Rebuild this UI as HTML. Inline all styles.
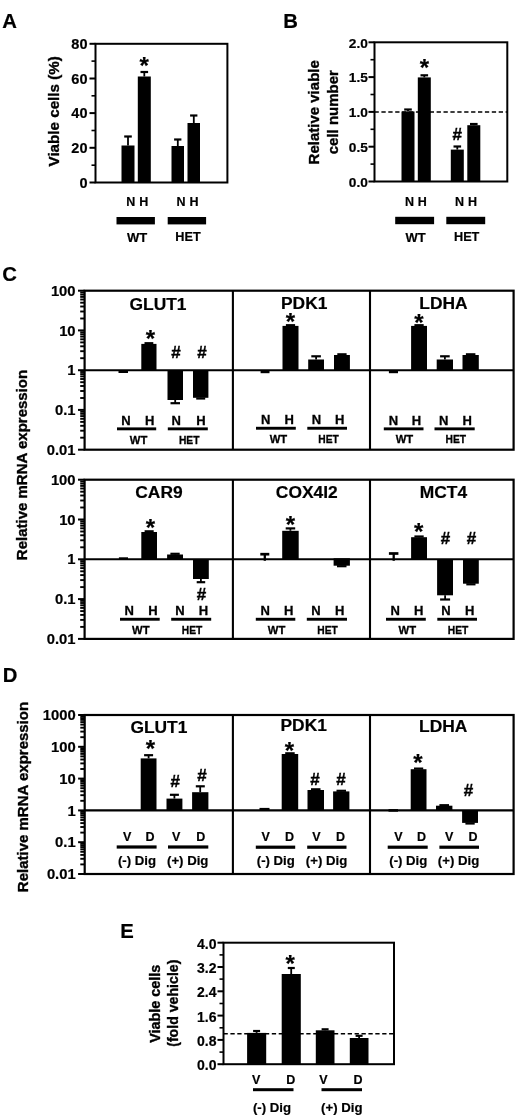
<!DOCTYPE html>
<html><head><meta charset="utf-8"><title>Figure</title>
<style>html,body{margin:0;padding:0;background:#fff}svg{display:block}text{fill:#000}</style>
</head><body>
<svg width="520" height="1118" viewBox="0 0 520 1118" font-family="Liberation Sans, Arial, sans-serif" font-weight="bold">
<rect width="520" height="1118" fill="#fff"/>
<text x="9.6" y="28.2" font-size="20.3" text-anchor="middle"  stroke="#000" stroke-width="0.2">A</text>
<rect x="95.5" y="43.8" width="131.9" height="138.7" fill="none" stroke="#000" stroke-width="2"/>
<line x1="89.5" y1="43.8" x2="95.5" y2="43.8" stroke="#000" stroke-width="2" />
<text x="87.5" y="49.0" font-size="14.5" text-anchor="end"  stroke="#000" stroke-width="0.2">80</text>
<line x1="91.5" y1="61.1" x2="95.5" y2="61.1" stroke="#000" stroke-width="1.6" />
<line x1="89.5" y1="78.5" x2="95.5" y2="78.5" stroke="#000" stroke-width="2" />
<text x="87.5" y="83.7" font-size="14.5" text-anchor="end"  stroke="#000" stroke-width="0.2">60</text>
<line x1="91.5" y1="95.8" x2="95.5" y2="95.8" stroke="#000" stroke-width="1.6" />
<line x1="89.5" y1="113.1" x2="95.5" y2="113.1" stroke="#000" stroke-width="2" />
<text x="87.5" y="118.3" font-size="14.5" text-anchor="end"  stroke="#000" stroke-width="0.2">40</text>
<line x1="91.5" y1="130.5" x2="95.5" y2="130.5" stroke="#000" stroke-width="1.6" />
<line x1="89.5" y1="147.8" x2="95.5" y2="147.8" stroke="#000" stroke-width="2" />
<text x="87.5" y="153.0" font-size="14.5" text-anchor="end"  stroke="#000" stroke-width="0.2">20</text>
<line x1="91.5" y1="165.2" x2="95.5" y2="165.2" stroke="#000" stroke-width="1.6" />
<line x1="89.5" y1="182.5" x2="95.5" y2="182.5" stroke="#000" stroke-width="2" />
<text x="87.5" y="187.7" font-size="14.5" text-anchor="end"  stroke="#000" stroke-width="0.2">0</text>
<text x="58.7" y="111.3" font-size="15.2" text-anchor="middle" stroke="#000" stroke-width="0.35" transform="rotate(-90 58.7 111.3)">Viable cells (%)</text>
<rect x="121.5" y="145.5" width="13.0" height="37.0" fill="#000"/>
<line x1="128.0" y1="145.5" x2="128.0" y2="136.5" stroke="#000" stroke-width="1.8" />
<line x1="124.2" y1="136.5" x2="131.8" y2="136.5" stroke="#000" stroke-width="2.2" />
<rect x="137.8" y="76.5" width="13.0" height="106.0" fill="#000"/>
<line x1="144.3" y1="76.5" x2="144.3" y2="72.0" stroke="#000" stroke-width="1.8" />
<line x1="140.5" y1="72.0" x2="148.1" y2="72.0" stroke="#000" stroke-width="2.2" />
<rect x="171.5" y="146.0" width="12.5" height="36.5" fill="#000"/>
<line x1="177.8" y1="146.0" x2="177.8" y2="139.5" stroke="#000" stroke-width="1.8" />
<line x1="174.1" y1="139.5" x2="181.4" y2="139.5" stroke="#000" stroke-width="2.2" />
<rect x="187.5" y="123.0" width="12.5" height="59.5" fill="#000"/>
<line x1="193.8" y1="123.0" x2="193.8" y2="115.5" stroke="#000" stroke-width="1.8" />
<line x1="190.1" y1="115.5" x2="197.4" y2="115.5" stroke="#000" stroke-width="2.2" />
<text x="144.2" y="74.2" font-size="24" text-anchor="middle"  stroke="#000" stroke-width="0.2">*</text>
<text x="130.8" y="206.2" font-size="12.5" text-anchor="middle"  stroke="#000" stroke-width="0.2">N</text>
<text x="143.7" y="206.2" font-size="12.5" text-anchor="middle"  stroke="#000" stroke-width="0.2">H</text>
<text x="181.0" y="206.2" font-size="12.5" text-anchor="middle"  stroke="#000" stroke-width="0.2">N</text>
<text x="194.0" y="206.2" font-size="12.5" text-anchor="middle"  stroke="#000" stroke-width="0.2">H</text>
<rect x="116.5" y="217.0" width="38.4" height="7.4" fill="#000"/>
<rect x="167.7" y="217.0" width="38.4" height="7.4" fill="#000"/>
<text x="137.0" y="242.1" font-size="13" text-anchor="middle"  stroke="#000" stroke-width="0.2">WT</text>
<text x="188.0" y="240.8" font-size="12.7" text-anchor="middle"  stroke="#000" stroke-width="0.2">HET</text>
<text x="290.7" y="27.8" font-size="20.3" text-anchor="middle"  stroke="#000" stroke-width="0.2">B</text>
<rect x="374.5" y="42.3" width="132.8" height="139.2" fill="none" stroke="#000" stroke-width="2"/>
<line x1="368.5" y1="42.3" x2="374.5" y2="42.3" stroke="#000" stroke-width="2" />
<text x="367.8" y="47.5" font-size="13.7" text-anchor="end"  stroke="#000" stroke-width="0.2">2.0</text>
<line x1="370.5" y1="59.7" x2="374.5" y2="59.7" stroke="#000" stroke-width="1.6" />
<line x1="368.5" y1="77.1" x2="374.5" y2="77.1" stroke="#000" stroke-width="2" />
<text x="367.8" y="82.3" font-size="13.7" text-anchor="end"  stroke="#000" stroke-width="0.2">1.5</text>
<line x1="370.5" y1="94.5" x2="374.5" y2="94.5" stroke="#000" stroke-width="1.6" />
<line x1="368.5" y1="111.9" x2="374.5" y2="111.9" stroke="#000" stroke-width="2" />
<text x="367.8" y="117.1" font-size="13.7" text-anchor="end"  stroke="#000" stroke-width="0.2">1.0</text>
<line x1="370.5" y1="129.3" x2="374.5" y2="129.3" stroke="#000" stroke-width="1.6" />
<line x1="368.5" y1="146.7" x2="374.5" y2="146.7" stroke="#000" stroke-width="2" />
<text x="367.8" y="151.9" font-size="13.7" text-anchor="end"  stroke="#000" stroke-width="0.2">0.5</text>
<line x1="370.5" y1="164.1" x2="374.5" y2="164.1" stroke="#000" stroke-width="1.6" />
<line x1="368.5" y1="181.5" x2="374.5" y2="181.5" stroke="#000" stroke-width="2" />
<text x="367.8" y="186.7" font-size="13.7" text-anchor="end"  stroke="#000" stroke-width="0.2">0.0</text>
<text x="319.2" y="112.3" font-size="15" text-anchor="middle" stroke="#000" stroke-width="0.35" transform="rotate(-90 319.2 112.3)">Relative viable</text>
<text x="338.4" y="112.2" font-size="15" text-anchor="middle" stroke="#000" stroke-width="0.35" transform="rotate(-90 338.4 112.2)">cell number</text>
<line x1="374.5" y1="112.0" x2="507.3" y2="112.0" stroke="#000" stroke-width="1.6" stroke-dasharray="4.3 2.6"/>
<rect x="401.5" y="111.5" width="13.0" height="70.0" fill="#000"/>
<line x1="408.0" y1="111.5" x2="408.0" y2="109.5" stroke="#000" stroke-width="1.8" />
<line x1="404.2" y1="109.5" x2="411.8" y2="109.5" stroke="#000" stroke-width="2.2" />
<rect x="417.8" y="77.4" width="13.0" height="104.1" fill="#000"/>
<line x1="424.3" y1="77.4" x2="424.3" y2="75.3" stroke="#000" stroke-width="1.8" />
<line x1="420.5" y1="75.3" x2="428.1" y2="75.3" stroke="#000" stroke-width="2.2" />
<rect x="450.8" y="149.6" width="13.0" height="31.9" fill="#000"/>
<line x1="457.3" y1="149.6" x2="457.3" y2="146.5" stroke="#000" stroke-width="1.8" />
<line x1="453.5" y1="146.5" x2="461.1" y2="146.5" stroke="#000" stroke-width="2.2" />
<rect x="467.3" y="125.2" width="13.0" height="56.3" fill="#000"/>
<line x1="473.8" y1="125.2" x2="473.8" y2="124.0" stroke="#000" stroke-width="1.8" />
<line x1="470.0" y1="124.0" x2="477.6" y2="124.0" stroke="#000" stroke-width="2.2" />
<text x="424.3" y="75.9" font-size="24" text-anchor="middle"  stroke="#000" stroke-width="0.2">*</text>
<text x="457.3" y="140.1" font-size="17" text-anchor="middle" stroke="#000" stroke-width="0.4">#</text>
<text x="409.4" y="206.0" font-size="12.5" text-anchor="middle"  stroke="#000" stroke-width="0.2">N</text>
<text x="422.3" y="206.0" font-size="12.5" text-anchor="middle"  stroke="#000" stroke-width="0.2">H</text>
<text x="459.6" y="206.0" font-size="12.5" text-anchor="middle"  stroke="#000" stroke-width="0.2">N</text>
<text x="472.6" y="206.0" font-size="12.5" text-anchor="middle"  stroke="#000" stroke-width="0.2">H</text>
<rect x="395.2" y="216.8" width="38.9" height="7.4" fill="#000"/>
<rect x="446.3" y="216.8" width="38.9" height="7.4" fill="#000"/>
<text x="415.5" y="242.2" font-size="13" text-anchor="middle"  stroke="#000" stroke-width="0.2">WT</text>
<text x="466.7" y="241.0" font-size="12.7" text-anchor="middle"  stroke="#000" stroke-width="0.2">HET</text>
<text x="9.7" y="281.3" font-size="20.3" text-anchor="middle"  stroke="#000" stroke-width="0.2">C</text>
<text x="27.1" y="465.0" font-size="15" text-anchor="middle" stroke="#000" stroke-width="0.35" transform="rotate(-90 27.1 465.0)">Relative mRNA expression</text>
<rect x="84.6" y="290.7" width="429.0" height="159.0" fill="none" stroke="#000" stroke-width="2.2"/>
<line x1="232.9" y1="290.7" x2="232.9" y2="449.7" stroke="#000" stroke-width="2.1" />
<line x1="370.0" y1="290.7" x2="370.0" y2="449.7" stroke="#000" stroke-width="2.1" />
<line x1="84.6" y1="370.2" x2="513.6" y2="370.2" stroke="#000" stroke-width="2.1" />
<line x1="78.0" y1="290.7" x2="84.6" y2="290.7" stroke="#000" stroke-width="2" />
<text x="75.6" y="295.8" font-size="14.8" text-anchor="end"  stroke="#000" stroke-width="0.2">100</text>
<line x1="80.2" y1="318.5" x2="84.6" y2="318.5" stroke="#000" stroke-width="1.9" />
<line x1="80.2" y1="311.5" x2="84.6" y2="311.5" stroke="#000" stroke-width="1.9" />
<line x1="80.2" y1="306.5" x2="84.6" y2="306.5" stroke="#000" stroke-width="1.9" />
<line x1="80.2" y1="302.7" x2="84.6" y2="302.7" stroke="#000" stroke-width="1.9" />
<line x1="80.2" y1="299.5" x2="84.6" y2="299.5" stroke="#000" stroke-width="1.9" />
<line x1="80.2" y1="296.9" x2="84.6" y2="296.9" stroke="#000" stroke-width="1.9" />
<line x1="80.2" y1="294.6" x2="84.6" y2="294.6" stroke="#000" stroke-width="1.9" />
<line x1="80.2" y1="292.5" x2="84.6" y2="292.5" stroke="#000" stroke-width="1.9" />
<line x1="78.0" y1="330.4" x2="84.6" y2="330.4" stroke="#000" stroke-width="2" />
<text x="75.6" y="335.5" font-size="14.8" text-anchor="end"  stroke="#000" stroke-width="0.2">10</text>
<line x1="80.2" y1="358.2" x2="84.6" y2="358.2" stroke="#000" stroke-width="1.9" />
<line x1="80.2" y1="351.2" x2="84.6" y2="351.2" stroke="#000" stroke-width="1.9" />
<line x1="80.2" y1="346.3" x2="84.6" y2="346.3" stroke="#000" stroke-width="1.9" />
<line x1="80.2" y1="342.4" x2="84.6" y2="342.4" stroke="#000" stroke-width="1.9" />
<line x1="80.2" y1="339.3" x2="84.6" y2="339.3" stroke="#000" stroke-width="1.9" />
<line x1="80.2" y1="336.6" x2="84.6" y2="336.6" stroke="#000" stroke-width="1.9" />
<line x1="80.2" y1="334.3" x2="84.6" y2="334.3" stroke="#000" stroke-width="1.9" />
<line x1="80.2" y1="332.3" x2="84.6" y2="332.3" stroke="#000" stroke-width="1.9" />
<line x1="78.0" y1="370.2" x2="84.6" y2="370.2" stroke="#000" stroke-width="2" />
<text x="75.6" y="375.3" font-size="14.8" text-anchor="end"  stroke="#000" stroke-width="0.2">1</text>
<line x1="80.2" y1="398.0" x2="84.6" y2="398.0" stroke="#000" stroke-width="1.9" />
<line x1="80.2" y1="391.0" x2="84.6" y2="391.0" stroke="#000" stroke-width="1.9" />
<line x1="80.2" y1="386.0" x2="84.6" y2="386.0" stroke="#000" stroke-width="1.9" />
<line x1="80.2" y1="382.2" x2="84.6" y2="382.2" stroke="#000" stroke-width="1.9" />
<line x1="80.2" y1="379.0" x2="84.6" y2="379.0" stroke="#000" stroke-width="1.9" />
<line x1="80.2" y1="376.4" x2="84.6" y2="376.4" stroke="#000" stroke-width="1.9" />
<line x1="80.2" y1="374.1" x2="84.6" y2="374.1" stroke="#000" stroke-width="1.9" />
<line x1="80.2" y1="372.0" x2="84.6" y2="372.0" stroke="#000" stroke-width="1.9" />
<line x1="78.0" y1="409.9" x2="84.6" y2="409.9" stroke="#000" stroke-width="2" />
<text x="75.6" y="415.0" font-size="14.8" text-anchor="end"  stroke="#000" stroke-width="0.2">0.1</text>
<line x1="80.2" y1="437.7" x2="84.6" y2="437.7" stroke="#000" stroke-width="1.9" />
<line x1="80.2" y1="430.7" x2="84.6" y2="430.7" stroke="#000" stroke-width="1.9" />
<line x1="80.2" y1="425.8" x2="84.6" y2="425.8" stroke="#000" stroke-width="1.9" />
<line x1="80.2" y1="421.9" x2="84.6" y2="421.9" stroke="#000" stroke-width="1.9" />
<line x1="80.2" y1="418.8" x2="84.6" y2="418.8" stroke="#000" stroke-width="1.9" />
<line x1="80.2" y1="416.1" x2="84.6" y2="416.1" stroke="#000" stroke-width="1.9" />
<line x1="80.2" y1="413.8" x2="84.6" y2="413.8" stroke="#000" stroke-width="1.9" />
<line x1="80.2" y1="411.8" x2="84.6" y2="411.8" stroke="#000" stroke-width="1.9" />
<line x1="78.0" y1="449.7" x2="84.6" y2="449.7" stroke="#000" stroke-width="2" />
<text x="75.6" y="454.8" font-size="14.8" text-anchor="end"  stroke="#000" stroke-width="0.2">0.01</text>
<text x="158.0" y="309.8" font-size="17.4" text-anchor="middle"  stroke="#000" stroke-width="0.2">GLUT1</text>
<text x="304.2" y="308.7" font-size="17.4" text-anchor="middle"  stroke="#000" stroke-width="0.2">PDK1</text>
<text x="443.5" y="309.2" font-size="17.4" text-anchor="middle"  stroke="#000" stroke-width="0.2">LDHA</text>
<rect x="118.5" y="370.2" width="9.5" height="2.8" fill="#000"/>
<rect x="141.3" y="343.9" width="15.2" height="26.3" fill="#000"/>
<line x1="148.9" y1="343.9" x2="148.9" y2="343.2" stroke="#000" stroke-width="1.8" />
<line x1="144.5" y1="343.2" x2="153.3" y2="343.2" stroke="#000" stroke-width="2.2" />
<rect x="167.5" y="370.2" width="15.5" height="29.8" fill="#000"/>
<line x1="175.2" y1="400.0" x2="175.2" y2="403.2" stroke="#000" stroke-width="1.8" />
<line x1="170.5" y1="403.2" x2="180.0" y2="403.2" stroke="#000" stroke-width="2.2" />
<rect x="193.0" y="370.2" width="15.4" height="27.6" fill="#000"/>
<line x1="200.7" y1="397.8" x2="200.7" y2="398.5" stroke="#000" stroke-width="1.8" />
<line x1="196.2" y1="398.5" x2="205.2" y2="398.5" stroke="#000" stroke-width="2.2" />
<text x="150.4" y="347.0" font-size="24" text-anchor="middle"  stroke="#000" stroke-width="0.2">*</text>
<text x="176.0" y="358.1" font-size="17" text-anchor="middle" stroke="#000" stroke-width="0.4">#</text>
<text x="202.0" y="358.1" font-size="17" text-anchor="middle" stroke="#000" stroke-width="0.4">#</text>
<rect x="260.6" y="370.2" width="8.9" height="3.0" fill="#000"/>
<rect x="282.5" y="325.9" width="16.0" height="44.3" fill="#000"/>
<line x1="290.5" y1="325.9" x2="290.5" y2="325.2" stroke="#000" stroke-width="1.8" />
<line x1="285.9" y1="325.2" x2="295.1" y2="325.2" stroke="#000" stroke-width="2.2" />
<rect x="308.2" y="359.5" width="15.8" height="10.7" fill="#000"/>
<line x1="316.1" y1="359.5" x2="316.1" y2="356.3" stroke="#000" stroke-width="1.8" />
<line x1="311.3" y1="356.3" x2="320.9" y2="356.3" stroke="#000" stroke-width="2.2" />
<rect x="334.0" y="355.0" width="15.9" height="15.2" fill="#000"/>
<line x1="341.9" y1="355.0" x2="341.9" y2="354.3" stroke="#000" stroke-width="1.8" />
<line x1="337.3" y1="354.3" x2="346.6" y2="354.3" stroke="#000" stroke-width="2.2" />
<text x="290.4" y="330.2" font-size="24" text-anchor="middle"  stroke="#000" stroke-width="0.2">*</text>
<rect x="388.9" y="370.2" width="9.1" height="3.0" fill="#000"/>
<rect x="411.1" y="325.9" width="15.9" height="44.3" fill="#000"/>
<line x1="419.1" y1="325.9" x2="419.1" y2="325.2" stroke="#000" stroke-width="1.8" />
<line x1="414.4" y1="325.2" x2="423.7" y2="325.2" stroke="#000" stroke-width="2.2" />
<rect x="436.7" y="359.5" width="16.3" height="10.7" fill="#000"/>
<line x1="444.9" y1="359.5" x2="444.9" y2="356.3" stroke="#000" stroke-width="1.8" />
<line x1="440.1" y1="356.3" x2="449.7" y2="356.3" stroke="#000" stroke-width="2.2" />
<rect x="462.5" y="355.0" width="16.3" height="15.2" fill="#000"/>
<line x1="470.6" y1="355.0" x2="470.6" y2="354.3" stroke="#000" stroke-width="1.8" />
<line x1="465.9" y1="354.3" x2="475.4" y2="354.3" stroke="#000" stroke-width="2.2" />
<text x="419.0" y="330.7" font-size="24" text-anchor="middle"  stroke="#000" stroke-width="0.2">*</text>
<text x="126.0" y="425.4" font-size="13" text-anchor="middle" stroke="#000" stroke-width="0.3">N</text>
<text x="149.6" y="425.4" font-size="13" text-anchor="middle" stroke="#000" stroke-width="0.3">H</text>
<text x="176.2" y="425.4" font-size="13" text-anchor="middle" stroke="#000" stroke-width="0.3">N</text>
<text x="201.0" y="425.4" font-size="13" text-anchor="middle" stroke="#000" stroke-width="0.3">H</text>
<rect x="117.0" y="427.4" width="39.2" height="2.9" fill="#000"/>
<rect x="167.8" y="427.4" width="40.0" height="2.9" fill="#000"/>
<text x="138.6" y="443.8" font-size="11.5" text-anchor="middle" textLength="17.5" lengthAdjust="spacingAndGlyphs" stroke="#000" stroke-width="0.3">WT</text>
<text x="189.2" y="443.8" font-size="11.5" text-anchor="middle" textLength="20.5" lengthAdjust="spacingAndGlyphs" stroke="#000" stroke-width="0.3">HET</text>
<text x="265.8" y="424.2" font-size="13" text-anchor="middle" stroke="#000" stroke-width="0.3">N</text>
<text x="289.3" y="424.2" font-size="13" text-anchor="middle" stroke="#000" stroke-width="0.3">H</text>
<text x="316.5" y="424.2" font-size="13" text-anchor="middle" stroke="#000" stroke-width="0.3">N</text>
<text x="339.6" y="424.2" font-size="13" text-anchor="middle" stroke="#000" stroke-width="0.3">H</text>
<rect x="256.0" y="426.8" width="39.8" height="2.9" fill="#000"/>
<rect x="307.3" y="426.8" width="39.7" height="2.9" fill="#000"/>
<text x="278.5" y="442.8" font-size="11.5" text-anchor="middle" textLength="17.5" lengthAdjust="spacingAndGlyphs" stroke="#000" stroke-width="0.3">WT</text>
<text x="328.5" y="442.8" font-size="11.5" text-anchor="middle" textLength="20.5" lengthAdjust="spacingAndGlyphs" stroke="#000" stroke-width="0.3">HET</text>
<text x="393.5" y="424.7" font-size="13" text-anchor="middle" stroke="#000" stroke-width="0.3">N</text>
<text x="416.5" y="424.7" font-size="13" text-anchor="middle" stroke="#000" stroke-width="0.3">H</text>
<text x="443.8" y="424.7" font-size="13" text-anchor="middle" stroke="#000" stroke-width="0.3">N</text>
<text x="467.3" y="424.7" font-size="13" text-anchor="middle" stroke="#000" stroke-width="0.3">H</text>
<rect x="383.8" y="427.4" width="39.7" height="2.9" fill="#000"/>
<rect x="434.5" y="427.4" width="40.2" height="2.9" fill="#000"/>
<text x="404.5" y="443.3" font-size="11.5" text-anchor="middle" textLength="17.5" lengthAdjust="spacingAndGlyphs" stroke="#000" stroke-width="0.3">WT</text>
<text x="455.8" y="443.3" font-size="11.5" text-anchor="middle" textLength="20.5" lengthAdjust="spacingAndGlyphs" stroke="#000" stroke-width="0.3">HET</text>
<rect x="84.6" y="479.7" width="429.0" height="159.2" fill="none" stroke="#000" stroke-width="2.2"/>
<line x1="232.9" y1="479.7" x2="232.9" y2="638.9" stroke="#000" stroke-width="2.1" />
<line x1="370.0" y1="479.7" x2="370.0" y2="638.9" stroke="#000" stroke-width="2.1" />
<line x1="84.6" y1="559.3" x2="513.6" y2="559.3" stroke="#000" stroke-width="2.1" />
<line x1="78.0" y1="479.7" x2="84.6" y2="479.7" stroke="#000" stroke-width="2" />
<text x="75.6" y="484.8" font-size="14.8" text-anchor="end"  stroke="#000" stroke-width="0.2">100</text>
<line x1="80.2" y1="507.5" x2="84.6" y2="507.5" stroke="#000" stroke-width="1.9" />
<line x1="80.2" y1="500.5" x2="84.6" y2="500.5" stroke="#000" stroke-width="1.9" />
<line x1="80.2" y1="495.5" x2="84.6" y2="495.5" stroke="#000" stroke-width="1.9" />
<line x1="80.2" y1="491.7" x2="84.6" y2="491.7" stroke="#000" stroke-width="1.9" />
<line x1="80.2" y1="488.5" x2="84.6" y2="488.5" stroke="#000" stroke-width="1.9" />
<line x1="80.2" y1="485.9" x2="84.6" y2="485.9" stroke="#000" stroke-width="1.9" />
<line x1="80.2" y1="483.6" x2="84.6" y2="483.6" stroke="#000" stroke-width="1.9" />
<line x1="80.2" y1="481.5" x2="84.6" y2="481.5" stroke="#000" stroke-width="1.9" />
<line x1="78.0" y1="519.5" x2="84.6" y2="519.5" stroke="#000" stroke-width="2" />
<text x="75.6" y="524.6" font-size="14.8" text-anchor="end"  stroke="#000" stroke-width="0.2">10</text>
<line x1="80.2" y1="547.3" x2="84.6" y2="547.3" stroke="#000" stroke-width="1.9" />
<line x1="80.2" y1="540.3" x2="84.6" y2="540.3" stroke="#000" stroke-width="1.9" />
<line x1="80.2" y1="535.3" x2="84.6" y2="535.3" stroke="#000" stroke-width="1.9" />
<line x1="80.2" y1="531.5" x2="84.6" y2="531.5" stroke="#000" stroke-width="1.9" />
<line x1="80.2" y1="528.3" x2="84.6" y2="528.3" stroke="#000" stroke-width="1.9" />
<line x1="80.2" y1="525.7" x2="84.6" y2="525.7" stroke="#000" stroke-width="1.9" />
<line x1="80.2" y1="523.4" x2="84.6" y2="523.4" stroke="#000" stroke-width="1.9" />
<line x1="80.2" y1="521.3" x2="84.6" y2="521.3" stroke="#000" stroke-width="1.9" />
<line x1="78.0" y1="559.3" x2="84.6" y2="559.3" stroke="#000" stroke-width="2" />
<text x="75.6" y="564.4" font-size="14.8" text-anchor="end"  stroke="#000" stroke-width="0.2">1</text>
<line x1="80.2" y1="587.1" x2="84.6" y2="587.1" stroke="#000" stroke-width="1.9" />
<line x1="80.2" y1="580.1" x2="84.6" y2="580.1" stroke="#000" stroke-width="1.9" />
<line x1="80.2" y1="575.1" x2="84.6" y2="575.1" stroke="#000" stroke-width="1.9" />
<line x1="80.2" y1="571.3" x2="84.6" y2="571.3" stroke="#000" stroke-width="1.9" />
<line x1="80.2" y1="568.1" x2="84.6" y2="568.1" stroke="#000" stroke-width="1.9" />
<line x1="80.2" y1="565.5" x2="84.6" y2="565.5" stroke="#000" stroke-width="1.9" />
<line x1="80.2" y1="563.2" x2="84.6" y2="563.2" stroke="#000" stroke-width="1.9" />
<line x1="80.2" y1="561.1" x2="84.6" y2="561.1" stroke="#000" stroke-width="1.9" />
<line x1="78.0" y1="599.1" x2="84.6" y2="599.1" stroke="#000" stroke-width="2" />
<text x="75.6" y="604.2" font-size="14.8" text-anchor="end"  stroke="#000" stroke-width="0.2">0.1</text>
<line x1="80.2" y1="626.9" x2="84.6" y2="626.9" stroke="#000" stroke-width="1.9" />
<line x1="80.2" y1="619.9" x2="84.6" y2="619.9" stroke="#000" stroke-width="1.9" />
<line x1="80.2" y1="614.9" x2="84.6" y2="614.9" stroke="#000" stroke-width="1.9" />
<line x1="80.2" y1="611.1" x2="84.6" y2="611.1" stroke="#000" stroke-width="1.9" />
<line x1="80.2" y1="607.9" x2="84.6" y2="607.9" stroke="#000" stroke-width="1.9" />
<line x1="80.2" y1="605.3" x2="84.6" y2="605.3" stroke="#000" stroke-width="1.9" />
<line x1="80.2" y1="603.0" x2="84.6" y2="603.0" stroke="#000" stroke-width="1.9" />
<line x1="80.2" y1="600.9" x2="84.6" y2="600.9" stroke="#000" stroke-width="1.9" />
<line x1="78.0" y1="638.9" x2="84.6" y2="638.9" stroke="#000" stroke-width="2" />
<text x="75.6" y="644.0" font-size="14.8" text-anchor="end"  stroke="#000" stroke-width="0.2">0.01</text>
<text x="159.0" y="497.5" font-size="17.4" text-anchor="middle"  stroke="#000" stroke-width="0.2">CAR9</text>
<text x="306.8" y="497.5" font-size="17.4" text-anchor="middle"  stroke="#000" stroke-width="0.2">COX4I2</text>
<text x="443.5" y="497.7" font-size="17.4" text-anchor="middle"  stroke="#000" stroke-width="0.2">MCT4</text>
<rect x="118.9" y="557.3" width="9.1" height="2.0" fill="#000"/>
<rect x="141.3" y="532.0" width="15.7" height="27.3" fill="#000"/>
<line x1="149.2" y1="532.0" x2="149.2" y2="531.3" stroke="#000" stroke-width="1.8" />
<line x1="144.6" y1="531.3" x2="153.7" y2="531.3" stroke="#000" stroke-width="2.2" />
<rect x="167.1" y="554.5" width="15.9" height="4.8" fill="#000"/>
<line x1="175.1" y1="554.5" x2="175.1" y2="553.8" stroke="#000" stroke-width="1.8" />
<line x1="170.4" y1="553.8" x2="179.7" y2="553.8" stroke="#000" stroke-width="2.2" />
<rect x="193.0" y="559.3" width="15.8" height="19.7" fill="#000"/>
<line x1="200.9" y1="579.0" x2="200.9" y2="582.2" stroke="#000" stroke-width="1.8" />
<line x1="196.7" y1="582.2" x2="205.2" y2="582.2" stroke="#000" stroke-width="2.2" />
<text x="150.4" y="536.2" font-size="24" text-anchor="middle"  stroke="#000" stroke-width="0.2">*</text>
<text x="201.6" y="600.1" font-size="17" text-anchor="middle" stroke="#000" stroke-width="0.4">#</text>
<line x1="264.8" y1="560.8" x2="264.8" y2="554.2" stroke="#000" stroke-width="2.3" />
<line x1="260.3" y1="554.2" x2="269.3" y2="554.2" stroke="#000" stroke-width="2.6999999999999997" />
<rect x="282.2" y="530.8" width="16.5" height="28.5" fill="#000"/>
<line x1="290.4" y1="530.8" x2="290.4" y2="528.4" stroke="#000" stroke-width="1.8" />
<line x1="285.7" y1="528.4" x2="295.2" y2="528.4" stroke="#000" stroke-width="2.2" />
<rect x="333.6" y="558.3" width="16.3" height="7.4" fill="#000"/>
<line x1="341.8" y1="565.7" x2="341.8" y2="566.2" stroke="#000" stroke-width="1.8" />
<line x1="337.0" y1="566.2" x2="346.5" y2="566.2" stroke="#000" stroke-width="2.2" />
<text x="290.4" y="532.7" font-size="24" text-anchor="middle"  stroke="#000" stroke-width="0.2">*</text>
<line x1="393.7" y1="560.8" x2="393.7" y2="553.5" stroke="#000" stroke-width="2.3" />
<line x1="388.9" y1="553.5" x2="398.4" y2="553.5" stroke="#000" stroke-width="2.6999999999999997" />
<rect x="411.1" y="537.2" width="15.9" height="22.1" fill="#000"/>
<line x1="419.1" y1="537.2" x2="419.1" y2="536.5" stroke="#000" stroke-width="1.8" />
<line x1="414.4" y1="536.5" x2="423.7" y2="536.5" stroke="#000" stroke-width="2.2" />
<rect x="437.1" y="559.3" width="15.9" height="36.0" fill="#000"/>
<line x1="445.1" y1="595.3" x2="445.1" y2="599.5" stroke="#000" stroke-width="1.8" />
<line x1="440.1" y1="599.5" x2="450.1" y2="599.5" stroke="#000" stroke-width="2.2" />
<rect x="463.0" y="559.3" width="15.8" height="24.4" fill="#000"/>
<line x1="470.9" y1="583.7" x2="470.9" y2="584.3" stroke="#000" stroke-width="1.8" />
<line x1="466.3" y1="584.3" x2="475.5" y2="584.3" stroke="#000" stroke-width="2.2" />
<text x="418.6" y="539.5" font-size="24" text-anchor="middle"  stroke="#000" stroke-width="0.2">*</text>
<text x="445.6" y="544.1" font-size="17" text-anchor="middle" stroke="#000" stroke-width="0.4">#</text>
<text x="471.6" y="544.1" font-size="17" text-anchor="middle" stroke="#000" stroke-width="0.4">#</text>
<text x="129.2" y="615.4" font-size="13" text-anchor="middle" stroke="#000" stroke-width="0.3">N</text>
<text x="153.0" y="615.4" font-size="13" text-anchor="middle" stroke="#000" stroke-width="0.3">H</text>
<text x="180.0" y="615.4" font-size="13" text-anchor="middle" stroke="#000" stroke-width="0.3">N</text>
<text x="203.5" y="615.4" font-size="13" text-anchor="middle" stroke="#000" stroke-width="0.3">H</text>
<rect x="120.0" y="617.8" width="39.7" height="2.9" fill="#000"/>
<rect x="171.2" y="617.8" width="40.0" height="2.9" fill="#000"/>
<text x="140.8" y="633.9" font-size="11.5" text-anchor="middle" textLength="17.5" lengthAdjust="spacingAndGlyphs" stroke="#000" stroke-width="0.3">WT</text>
<text x="192.0" y="633.9" font-size="11.5" text-anchor="middle" textLength="20.5" lengthAdjust="spacingAndGlyphs" stroke="#000" stroke-width="0.3">HET</text>
<text x="265.3" y="615.4" font-size="13" text-anchor="middle" stroke="#000" stroke-width="0.3">N</text>
<text x="288.8" y="615.4" font-size="13" text-anchor="middle" stroke="#000" stroke-width="0.3">H</text>
<text x="316.0" y="615.4" font-size="13" text-anchor="middle" stroke="#000" stroke-width="0.3">N</text>
<text x="339.6" y="615.4" font-size="13" text-anchor="middle" stroke="#000" stroke-width="0.3">H</text>
<rect x="255.8" y="617.8" width="39.5" height="2.9" fill="#000"/>
<rect x="306.8" y="617.8" width="40.2" height="2.9" fill="#000"/>
<text x="276.6" y="634.1" font-size="11.5" text-anchor="middle" textLength="17.5" lengthAdjust="spacingAndGlyphs" stroke="#000" stroke-width="0.3">WT</text>
<text x="327.6" y="634.1" font-size="11.5" text-anchor="middle" textLength="20.5" lengthAdjust="spacingAndGlyphs" stroke="#000" stroke-width="0.3">HET</text>
<text x="395.3" y="615.4" font-size="13" text-anchor="middle" stroke="#000" stroke-width="0.3">N</text>
<text x="418.8" y="615.4" font-size="13" text-anchor="middle" stroke="#000" stroke-width="0.3">H</text>
<text x="446.0" y="615.4" font-size="13" text-anchor="middle" stroke="#000" stroke-width="0.3">N</text>
<text x="469.6" y="615.4" font-size="13" text-anchor="middle" stroke="#000" stroke-width="0.3">H</text>
<rect x="386.0" y="617.8" width="39.8" height="2.9" fill="#000"/>
<rect x="437.3" y="617.8" width="39.7" height="2.9" fill="#000"/>
<text x="407.3" y="634.1" font-size="11.5" text-anchor="middle" textLength="17.5" lengthAdjust="spacingAndGlyphs" stroke="#000" stroke-width="0.3">WT</text>
<text x="458.0" y="634.1" font-size="11.5" text-anchor="middle" textLength="20.5" lengthAdjust="spacingAndGlyphs" stroke="#000" stroke-width="0.3">HET</text>
<text x="10.0" y="681.9" font-size="20.3" text-anchor="middle"  stroke="#000" stroke-width="0.2">D</text>
<text x="27.9" y="797.0" font-size="15" text-anchor="middle" stroke="#000" stroke-width="0.35" transform="rotate(-90 27.9 797.0)">Relative mRNA expression</text>
<rect x="84.7" y="715.0" width="428.9" height="159.0" fill="none" stroke="#000" stroke-width="2.2"/>
<line x1="232.9" y1="715.0" x2="232.9" y2="874.0" stroke="#000" stroke-width="2.1" />
<line x1="370.0" y1="715.0" x2="370.0" y2="874.0" stroke="#000" stroke-width="2.1" />
<line x1="84.7" y1="810.4" x2="513.6" y2="810.4" stroke="#000" stroke-width="2.1" />
<line x1="78.1" y1="715.0" x2="84.7" y2="715.0" stroke="#000" stroke-width="2" />
<text x="75.7" y="720.1" font-size="14.8" text-anchor="end"  stroke="#000" stroke-width="0.2">1000</text>
<line x1="80.3" y1="737.2" x2="84.7" y2="737.2" stroke="#000" stroke-width="1.9" />
<line x1="80.3" y1="731.6" x2="84.7" y2="731.6" stroke="#000" stroke-width="1.9" />
<line x1="80.3" y1="727.7" x2="84.7" y2="727.7" stroke="#000" stroke-width="1.9" />
<line x1="80.3" y1="724.6" x2="84.7" y2="724.6" stroke="#000" stroke-width="1.9" />
<line x1="80.3" y1="722.1" x2="84.7" y2="722.1" stroke="#000" stroke-width="1.9" />
<line x1="80.3" y1="719.9" x2="84.7" y2="719.9" stroke="#000" stroke-width="1.9" />
<line x1="80.3" y1="718.1" x2="84.7" y2="718.1" stroke="#000" stroke-width="1.9" />
<line x1="80.3" y1="716.5" x2="84.7" y2="716.5" stroke="#000" stroke-width="1.9" />
<line x1="78.1" y1="746.8" x2="84.7" y2="746.8" stroke="#000" stroke-width="2" />
<text x="75.7" y="751.9" font-size="14.8" text-anchor="end"  stroke="#000" stroke-width="0.2">100</text>
<line x1="80.3" y1="769.0" x2="84.7" y2="769.0" stroke="#000" stroke-width="1.9" />
<line x1="80.3" y1="763.4" x2="84.7" y2="763.4" stroke="#000" stroke-width="1.9" />
<line x1="80.3" y1="759.5" x2="84.7" y2="759.5" stroke="#000" stroke-width="1.9" />
<line x1="80.3" y1="756.4" x2="84.7" y2="756.4" stroke="#000" stroke-width="1.9" />
<line x1="80.3" y1="753.9" x2="84.7" y2="753.9" stroke="#000" stroke-width="1.9" />
<line x1="80.3" y1="751.7" x2="84.7" y2="751.7" stroke="#000" stroke-width="1.9" />
<line x1="80.3" y1="749.9" x2="84.7" y2="749.9" stroke="#000" stroke-width="1.9" />
<line x1="80.3" y1="748.3" x2="84.7" y2="748.3" stroke="#000" stroke-width="1.9" />
<line x1="78.1" y1="778.6" x2="84.7" y2="778.6" stroke="#000" stroke-width="2" />
<text x="75.7" y="783.7" font-size="14.8" text-anchor="end"  stroke="#000" stroke-width="0.2">10</text>
<line x1="80.3" y1="800.8" x2="84.7" y2="800.8" stroke="#000" stroke-width="1.9" />
<line x1="80.3" y1="795.2" x2="84.7" y2="795.2" stroke="#000" stroke-width="1.9" />
<line x1="80.3" y1="791.3" x2="84.7" y2="791.3" stroke="#000" stroke-width="1.9" />
<line x1="80.3" y1="788.2" x2="84.7" y2="788.2" stroke="#000" stroke-width="1.9" />
<line x1="80.3" y1="785.7" x2="84.7" y2="785.7" stroke="#000" stroke-width="1.9" />
<line x1="80.3" y1="783.5" x2="84.7" y2="783.5" stroke="#000" stroke-width="1.9" />
<line x1="80.3" y1="781.7" x2="84.7" y2="781.7" stroke="#000" stroke-width="1.9" />
<line x1="80.3" y1="780.1" x2="84.7" y2="780.1" stroke="#000" stroke-width="1.9" />
<line x1="78.1" y1="810.4" x2="84.7" y2="810.4" stroke="#000" stroke-width="2" />
<text x="75.7" y="815.5" font-size="14.8" text-anchor="end"  stroke="#000" stroke-width="0.2">1</text>
<line x1="80.3" y1="832.6" x2="84.7" y2="832.6" stroke="#000" stroke-width="1.9" />
<line x1="80.3" y1="827.0" x2="84.7" y2="827.0" stroke="#000" stroke-width="1.9" />
<line x1="80.3" y1="823.1" x2="84.7" y2="823.1" stroke="#000" stroke-width="1.9" />
<line x1="80.3" y1="820.0" x2="84.7" y2="820.0" stroke="#000" stroke-width="1.9" />
<line x1="80.3" y1="817.5" x2="84.7" y2="817.5" stroke="#000" stroke-width="1.9" />
<line x1="80.3" y1="815.3" x2="84.7" y2="815.3" stroke="#000" stroke-width="1.9" />
<line x1="80.3" y1="813.5" x2="84.7" y2="813.5" stroke="#000" stroke-width="1.9" />
<line x1="80.3" y1="811.9" x2="84.7" y2="811.9" stroke="#000" stroke-width="1.9" />
<line x1="78.1" y1="842.2" x2="84.7" y2="842.2" stroke="#000" stroke-width="2" />
<text x="75.7" y="847.3" font-size="14.8" text-anchor="end"  stroke="#000" stroke-width="0.2">0.1</text>
<line x1="80.3" y1="864.4" x2="84.7" y2="864.4" stroke="#000" stroke-width="1.9" />
<line x1="80.3" y1="858.8" x2="84.7" y2="858.8" stroke="#000" stroke-width="1.9" />
<line x1="80.3" y1="854.9" x2="84.7" y2="854.9" stroke="#000" stroke-width="1.9" />
<line x1="80.3" y1="851.8" x2="84.7" y2="851.8" stroke="#000" stroke-width="1.9" />
<line x1="80.3" y1="849.3" x2="84.7" y2="849.3" stroke="#000" stroke-width="1.9" />
<line x1="80.3" y1="847.1" x2="84.7" y2="847.1" stroke="#000" stroke-width="1.9" />
<line x1="80.3" y1="845.3" x2="84.7" y2="845.3" stroke="#000" stroke-width="1.9" />
<line x1="80.3" y1="843.7" x2="84.7" y2="843.7" stroke="#000" stroke-width="1.9" />
<line x1="78.1" y1="874.0" x2="84.7" y2="874.0" stroke="#000" stroke-width="2" />
<text x="75.7" y="879.1" font-size="14.8" text-anchor="end"  stroke="#000" stroke-width="0.2">0.01</text>
<text x="158.9" y="732.5" font-size="17.4" text-anchor="middle"  stroke="#000" stroke-width="0.2">GLUT1</text>
<text x="303.7" y="731.1" font-size="17.4" text-anchor="middle"  stroke="#000" stroke-width="0.2">PDK1</text>
<text x="443.2" y="731.7" font-size="17.4" text-anchor="middle"  stroke="#000" stroke-width="0.2">LDHA</text>
<rect x="140.7" y="758.4" width="15.8" height="52.0" fill="#000"/>
<line x1="148.6" y1="758.4" x2="148.6" y2="755.2" stroke="#000" stroke-width="1.8" />
<line x1="144.1" y1="755.2" x2="153.1" y2="755.2" stroke="#000" stroke-width="2.2" />
<rect x="166.5" y="798.6" width="15.9" height="11.8" fill="#000"/>
<line x1="174.4" y1="798.6" x2="174.4" y2="794.8" stroke="#000" stroke-width="1.8" />
<line x1="169.9" y1="794.8" x2="178.9" y2="794.8" stroke="#000" stroke-width="2.2" />
<rect x="192.1" y="792.2" width="16.3" height="18.2" fill="#000"/>
<line x1="200.2" y1="792.2" x2="200.2" y2="786.3" stroke="#000" stroke-width="1.8" />
<line x1="195.8" y1="786.3" x2="204.8" y2="786.3" stroke="#000" stroke-width="2.2" />
<text x="150.4" y="757.4" font-size="24" text-anchor="middle"  stroke="#000" stroke-width="0.2">*</text>
<text x="175.2" y="786.5" font-size="17" text-anchor="middle" stroke="#000" stroke-width="0.4">#</text>
<text x="202.0" y="780.9" font-size="17" text-anchor="middle" stroke="#000" stroke-width="0.4">#</text>
<rect x="259.5" y="807.9" width="10.0" height="2.5" fill="#000"/>
<rect x="281.7" y="754.0" width="16.5" height="56.4" fill="#000"/>
<line x1="289.9" y1="754.0" x2="289.9" y2="753.3" stroke="#000" stroke-width="1.8" />
<line x1="285.2" y1="753.3" x2="294.7" y2="753.3" stroke="#000" stroke-width="2.2" />
<rect x="307.5" y="790.0" width="16.5" height="20.4" fill="#000"/>
<line x1="315.8" y1="790.0" x2="315.8" y2="789.3" stroke="#000" stroke-width="1.8" />
<line x1="311.0" y1="789.3" x2="320.5" y2="789.3" stroke="#000" stroke-width="2.2" />
<rect x="333.1" y="791.4" width="16.3" height="19.0" fill="#000"/>
<line x1="341.2" y1="791.4" x2="341.2" y2="790.8" stroke="#000" stroke-width="1.8" />
<line x1="336.5" y1="790.8" x2="346.0" y2="790.8" stroke="#000" stroke-width="2.2" />
<text x="289.3" y="758.9" font-size="24" text-anchor="middle"  stroke="#000" stroke-width="0.2">*</text>
<text x="315.0" y="785.4" font-size="17" text-anchor="middle" stroke="#000" stroke-width="0.4">#</text>
<text x="341.0" y="785.4" font-size="17" text-anchor="middle" stroke="#000" stroke-width="0.4">#</text>
<rect x="388.5" y="809.1" width="9.5" height="2.6" fill="#000"/>
<rect x="410.7" y="769.2" width="15.8" height="41.2" fill="#000"/>
<line x1="418.6" y1="769.2" x2="418.6" y2="768.6" stroke="#000" stroke-width="1.8" />
<line x1="414.0" y1="768.6" x2="423.2" y2="768.6" stroke="#000" stroke-width="2.2" />
<rect x="436.0" y="805.7" width="16.4" height="4.7" fill="#000"/>
<line x1="444.2" y1="805.7" x2="444.2" y2="805.2" stroke="#000" stroke-width="1.8" />
<line x1="439.4" y1="805.2" x2="449.0" y2="805.2" stroke="#000" stroke-width="2.2" />
<rect x="462.1" y="810.4" width="15.9" height="12.5" fill="#000"/>
<line x1="470.1" y1="822.9" x2="470.1" y2="823.5" stroke="#000" stroke-width="1.8" />
<line x1="465.4" y1="823.5" x2="474.7" y2="823.5" stroke="#000" stroke-width="2.2" />
<text x="418.0" y="771.2" font-size="24" text-anchor="middle"  stroke="#000" stroke-width="0.2">*</text>
<text x="468.6" y="795.7" font-size="17" text-anchor="middle" stroke="#000" stroke-width="0.4">#</text>
<text x="127.2" y="841.3" font-size="12.5" text-anchor="middle"  stroke="#000" stroke-width="0.2">V</text>
<text x="150.0" y="841.3" font-size="12.5" text-anchor="middle"  stroke="#000" stroke-width="0.2">D</text>
<text x="176.2" y="841.3" font-size="12.5" text-anchor="middle"  stroke="#000" stroke-width="0.2">V</text>
<text x="200.8" y="841.3" font-size="12.5" text-anchor="middle"  stroke="#000" stroke-width="0.2">D</text>
<rect x="116.7" y="845.4" width="39.9" height="3.2" fill="#000"/>
<rect x="168.0" y="845.4" width="40.3" height="3.2" fill="#000"/>
<text x="137.0" y="865.2" font-size="13.2" text-anchor="middle"  stroke="#000" stroke-width="0.2">(-) Dig</text>
<text x="187.7" y="865.2" font-size="13.2" text-anchor="middle"  stroke="#000" stroke-width="0.2">(+) Dig</text>
<text x="265.6" y="841.3" font-size="12.5" text-anchor="middle"  stroke="#000" stroke-width="0.2">V</text>
<text x="289.6" y="841.3" font-size="12.5" text-anchor="middle"  stroke="#000" stroke-width="0.2">D</text>
<text x="316.4" y="841.3" font-size="12.5" text-anchor="middle"  stroke="#000" stroke-width="0.2">V</text>
<text x="340.4" y="841.3" font-size="12.5" text-anchor="middle"  stroke="#000" stroke-width="0.2">D</text>
<rect x="255.8" y="845.6" width="39.4" height="3.2" fill="#000"/>
<rect x="307.2" y="845.6" width="39.3" height="3.2" fill="#000"/>
<text x="275.8" y="865.2" font-size="13.2" text-anchor="middle"  stroke="#000" stroke-width="0.2">(-) Dig</text>
<text x="326.5" y="865.2" font-size="13.2" text-anchor="middle"  stroke="#000" stroke-width="0.2">(+) Dig</text>
<text x="398.5" y="841.3" font-size="12.5" text-anchor="middle"  stroke="#000" stroke-width="0.2">V</text>
<text x="421.5" y="841.3" font-size="12.5" text-anchor="middle"  stroke="#000" stroke-width="0.2">D</text>
<text x="449.2" y="841.3" font-size="12.5" text-anchor="middle"  stroke="#000" stroke-width="0.2">V</text>
<text x="473.0" y="841.3" font-size="12.5" text-anchor="middle"  stroke="#000" stroke-width="0.2">D</text>
<rect x="387.7" y="845.6" width="40.0" height="3.2" fill="#000"/>
<rect x="439.4" y="845.6" width="39.6" height="3.2" fill="#000"/>
<text x="408.3" y="865.2" font-size="13.2" text-anchor="middle"  stroke="#000" stroke-width="0.2">(-) Dig</text>
<text x="458.5" y="865.2" font-size="13.2" text-anchor="middle"  stroke="#000" stroke-width="0.2">(+) Dig</text>
<text x="127.0" y="938.3" font-size="20.3" text-anchor="middle"  stroke="#000" stroke-width="0.2">E</text>
<rect x="223.5" y="942.7" width="170.5" height="121.5" fill="none" stroke="#000" stroke-width="2"/>
<line x1="217.5" y1="942.7" x2="223.5" y2="942.7" stroke="#000" stroke-width="2" />
<text x="216.5" y="948.6" font-size="14" text-anchor="end"  stroke="#000" stroke-width="0.2">4.0</text>
<line x1="219.5" y1="954.9" x2="223.5" y2="954.9" stroke="#000" stroke-width="1.6" />
<line x1="217.5" y1="967.0" x2="223.5" y2="967.0" stroke="#000" stroke-width="2" />
<text x="216.5" y="972.9" font-size="14" text-anchor="end"  stroke="#000" stroke-width="0.2">3.2</text>
<line x1="219.5" y1="979.1" x2="223.5" y2="979.1" stroke="#000" stroke-width="1.6" />
<line x1="217.5" y1="991.3" x2="223.5" y2="991.3" stroke="#000" stroke-width="2" />
<text x="216.5" y="997.2" font-size="14" text-anchor="end"  stroke="#000" stroke-width="0.2">2.4</text>
<line x1="219.5" y1="1003.5" x2="223.5" y2="1003.5" stroke="#000" stroke-width="1.6" />
<line x1="217.5" y1="1015.6" x2="223.5" y2="1015.6" stroke="#000" stroke-width="2" />
<text x="216.5" y="1021.5" font-size="14" text-anchor="end"  stroke="#000" stroke-width="0.2">1.6</text>
<line x1="219.5" y1="1027.8" x2="223.5" y2="1027.8" stroke="#000" stroke-width="1.6" />
<line x1="217.5" y1="1039.9" x2="223.5" y2="1039.9" stroke="#000" stroke-width="2" />
<text x="216.5" y="1045.8" font-size="14" text-anchor="end"  stroke="#000" stroke-width="0.2">0.8</text>
<line x1="219.5" y1="1052.1" x2="223.5" y2="1052.1" stroke="#000" stroke-width="1.6" />
<line x1="217.5" y1="1064.2" x2="223.5" y2="1064.2" stroke="#000" stroke-width="2" />
<text x="216.5" y="1070.1" font-size="14" text-anchor="end"  stroke="#000" stroke-width="0.2">0.0</text>
<text x="160.4" y="1003.7" font-size="14.4" text-anchor="middle" stroke="#000" stroke-width="0.35" transform="rotate(-90 160.4 1003.7)">Viable cells</text>
<text x="177.6" y="1003.2" font-size="14.15" text-anchor="middle" stroke="#000" stroke-width="0.35" transform="rotate(-90 177.6 1003.2)">(fold vehicle)</text>
<line x1="223.5" y1="1033.8" x2="394.0" y2="1033.8" stroke="#000" stroke-width="1.6" stroke-dasharray="4.3 2.6"/>
<rect x="247.1" y="1032.9" width="19.1" height="31.3" fill="#000"/>
<line x1="256.6" y1="1032.9" x2="256.6" y2="1031.0" stroke="#000" stroke-width="1.8" />
<line x1="253.1" y1="1031.0" x2="260.1" y2="1031.0" stroke="#000" stroke-width="2.2" />
<rect x="281.7" y="974.0" width="19.1" height="90.2" fill="#000"/>
<line x1="291.2" y1="974.0" x2="291.2" y2="968.0" stroke="#000" stroke-width="1.8" />
<line x1="287.8" y1="968.0" x2="294.8" y2="968.0" stroke="#000" stroke-width="2.2" />
<rect x="315.8" y="1030.3" width="18.7" height="33.9" fill="#000"/>
<line x1="325.1" y1="1030.3" x2="325.1" y2="1029.3" stroke="#000" stroke-width="1.8" />
<line x1="321.6" y1="1029.3" x2="328.6" y2="1029.3" stroke="#000" stroke-width="2.2" />
<rect x="349.8" y="1038.0" width="18.7" height="26.2" fill="#000"/>
<line x1="359.1" y1="1038.0" x2="359.1" y2="1035.8" stroke="#000" stroke-width="1.8" />
<line x1="355.6" y1="1035.8" x2="362.6" y2="1035.8" stroke="#000" stroke-width="2.2" />
<text x="290.1" y="972.2" font-size="24" text-anchor="middle"  stroke="#000" stroke-width="0.2">*</text>
<text x="256.2" y="1084.0" font-size="12.5" text-anchor="middle"  stroke="#000" stroke-width="0.2">V</text>
<text x="290.8" y="1084.0" font-size="12.5" text-anchor="middle"  stroke="#000" stroke-width="0.2">D</text>
<text x="323.5" y="1084.0" font-size="12.5" text-anchor="middle"  stroke="#000" stroke-width="0.2">V</text>
<text x="358.0" y="1084.0" font-size="12.5" text-anchor="middle"  stroke="#000" stroke-width="0.2">D</text>
<rect x="253.0" y="1088.2" width="40.5" height="3.0" fill="#000"/>
<rect x="321.5" y="1088.2" width="40.5" height="3.0" fill="#000"/>
<text x="272.0" y="1111.5" font-size="13.2" text-anchor="middle"  stroke="#000" stroke-width="0.2">(-) Dig</text>
<text x="341.8" y="1111.5" font-size="13.2" text-anchor="middle"  stroke="#000" stroke-width="0.2">(+) Dig</text>
</svg>
</body></html>
